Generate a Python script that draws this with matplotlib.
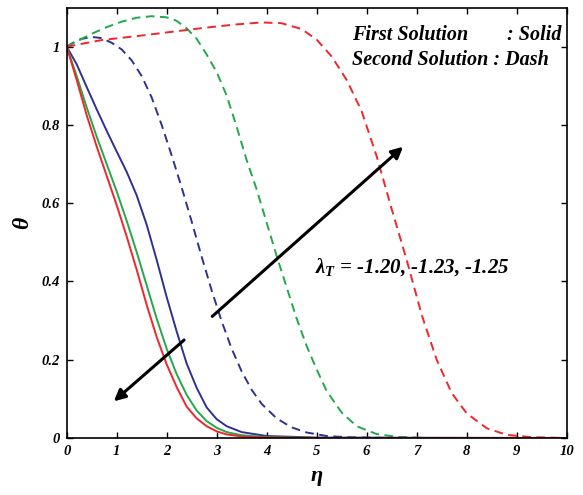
import matplotlib
matplotlib.use('Agg')
import matplotlib.pyplot as plt

plt.rcParams['font.family'] = ['Liberation Serif', 'DejaVu Serif']
plt.rcParams['mathtext.fontset'] = 'custom'
plt.rcParams['mathtext.it'] = 'Liberation Serif:bold:italic'
plt.rcParams['mathtext.rm'] = 'Liberation Serif:bold:italic'

# first solution (solid)
eta_sol = [0, 0.2, 0.4, 0.6, 0.8, 1.0, 1.2, 1.4, 1.6, 1.8, 2.0, 2.2, 2.4, 2.6, 2.8, 3.0, 3.2, 3.5, 4.0, 5.0, 10]
theta_red_1 = [1, 0.915, 0.825, 0.745, 0.67, 0.595, 0.515, 0.43, 0.34, 0.258, 0.188, 0.13, 0.08, 0.05, 0.03, 0.017, 0.009, 0.004, 0.001, 0, 0]
theta_green_1 = [1, 0.925, 0.845, 0.77, 0.7, 0.63, 0.555, 0.475, 0.39, 0.305, 0.228, 0.163, 0.11, 0.07, 0.043, 0.026, 0.015, 0.007, 0.002, 0, 0]
theta_blue_1 = [1, 0.955, 0.897, 0.84, 0.785, 0.732, 0.68, 0.62, 0.545, 0.455, 0.36, 0.272, 0.19, 0.128, 0.078, 0.048, 0.03, 0.015, 0.005, 0.001, 0]

# second solution (dash)
eta_blue_2 = [0, 0.15, 0.3, 0.5, 0.7, 0.9, 1.1, 1.3, 1.5, 1.7, 1.9, 2.1, 2.3, 2.5, 2.7, 2.9, 3.1, 3.3, 3.5, 3.7, 3.9, 4.2, 4.5, 4.8, 5.2, 5.6, 6.5, 10]
theta_blue_2 = [1, 1.012, 1.02, 1.025, 1.022, 1.01, 0.993, 0.965, 0.925, 0.87, 0.8, 0.722, 0.64, 0.553, 0.463, 0.377, 0.298, 0.228, 0.17, 0.123, 0.087, 0.05, 0.027, 0.014, 0.005, 0.002, 0, 0]

eta_green_2 = [0, 0.25, 0.5, 0.8, 1.1, 1.4, 1.7, 2.0, 2.2, 2.4, 2.6, 2.8, 3.0, 3.2, 3.4, 3.6, 3.8, 4.0, 4.2, 4.4, 4.6, 4.8, 5.0, 5.2, 5.5, 5.8, 6.2, 6.6, 7.2, 10]
theta_green_2 = [1, 1.017, 1.033, 1.05, 1.064, 1.074, 1.078, 1.075, 1.066, 1.047, 1.02, 0.98, 0.935, 0.875, 0.795, 0.71, 0.635, 0.55, 0.465, 0.385, 0.305, 0.235, 0.175, 0.12, 0.065, 0.03, 0.01, 0.003, 0, 0]

eta_red_2 = [0, 0.7, 1.4, 2.1, 2.8, 3.4, 3.9, 4.3, 4.7, 5.0, 5.3, 5.6, 5.9, 6.2, 6.5, 6.8, 7.1, 7.4, 7.7, 8.0, 8.4, 8.8, 9.3, 10]
theta_red_2 = [1, 1.017, 1.027, 1.038, 1.049, 1.057, 1.062, 1.06, 1.045, 1.018, 0.975, 0.915, 0.835, 0.72, 0.585, 0.455, 0.315, 0.2, 0.115, 0.063, 0.025, 0.008, 0.002, 0]

xticks = [0, 1, 2, 3, 4, 5, 6, 7, 8, 9, 10]
yticks = [0, 0.2, 0.4, 0.6, 0.8, 1]
ytick_labels = ['0', '0.2', '0.4', '0.6', '0.8', '1']

red = '#f0262b'
green = '#22a84a'
blue = '#2e3192'

fig = plt.figure(figsize=(5.83, 4.95), dpi=100)
ax = fig.add_axes([0.1144, 0.1152, 0.8576, 0.8695])

lw = 1.4
dash = (4.5, 2.8)
ax.plot(eta_blue_2, theta_blue_2, color=blue, lw=lw, dashes=dash)
ax.plot(eta_green_2, theta_green_2, color=green, lw=lw, dashes=dash)
ax.plot(eta_red_2, theta_red_2, color=red, lw=lw, dashes=dash)
ax.plot(eta_sol, theta_blue_1, color=blue, lw=lw)
ax.plot(eta_sol, theta_green_1, color=green, lw=lw)
ax.plot(eta_sol, theta_red_1, color=red, lw=lw)

ax.set_xlim(0, 10)
ax.set_ylim(0, 1.1)
ax.set_xticks(xticks)
ax.set_xticklabels([str(t) for t in xticks])
ax.set_yticks(yticks)
ax.set_yticklabels(ytick_labels)
ax.tick_params(direction='in', top=True, right=True, length=4, width=1, pad=5)
for lab in ax.get_xticklabels() + ax.get_yticklabels():
    lab.set_fontsize(10.5)
    lab.set_fontweight('bold')
    lab.set_fontstyle('italic')
for s in ax.spines.values():
    s.set_linewidth(1.2)

ax.set_xlabel('η', fontsize=16, fontweight='bold', style='italic', labelpad=6)
ax.set_ylabel('θ', fontsize=17, fontweight='bold', style='italic', labelpad=6)

# arrows
ax.annotate('', xy=(6.77, 0.749), xytext=(2.87, 0.306),
            arrowprops=dict(arrowstyle='-|>', lw=2.2, color='black', mutation_scale=17))
ax.annotate('', xy=(0.9, 0.089), xytext=(2.39, 0.255),
            arrowprops=dict(arrowstyle='-|>', lw=2.2, color='black', mutation_scale=17))

tkw = dict(fontweight='bold', style='italic', va='center', ha='left')
ax.text(4.97, 0.438, r'$\lambda_T$ = -1.20, -1.23, -1.25', fontsize=15, **tkw)
ax.text(5.71, 1.03, 'First Solution', fontsize=14.5, **tkw)
ax.text(8.8, 1.03, ': Solid', fontsize=14.5, **tkw)
ax.text(5.71, 0.966, 'Second Solution : Dash', fontsize=14.5, **tkw)

fig.savefig('out.png', dpi=100)
